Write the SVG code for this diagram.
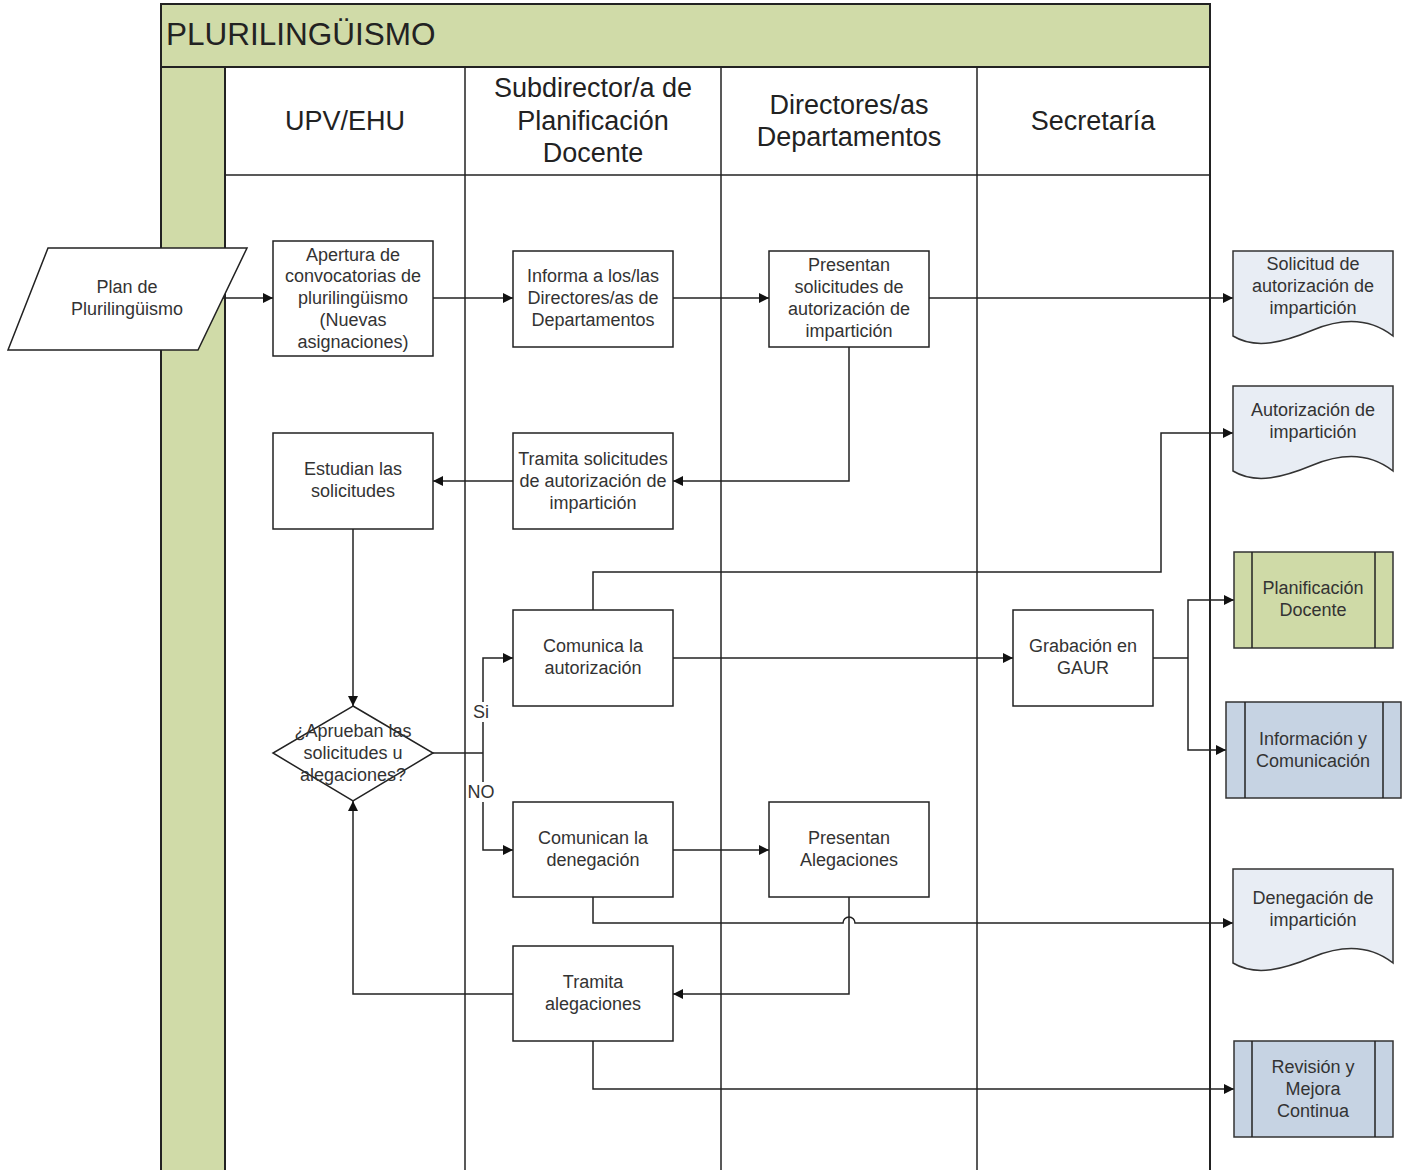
<svg xmlns="http://www.w3.org/2000/svg" width="1414" height="1170" viewBox="0 0 1414 1170">
<defs>
<style>
.pool{fill:#ffffff;stroke:#222;stroke-width:2}
.green{fill:#d0dba8;stroke:#222;stroke-width:2}
.lane{fill:none;stroke:#222;stroke-width:1.5}
.box{fill:#ffffff;stroke:#222;stroke-width:1.5}
.doc{fill:#e8edf4;stroke:#333;stroke-width:1.5}
.subg{fill:#cfdaa7;stroke:#333;stroke-width:1.5}
.subb{fill:#c6d3e3;stroke:#333;stroke-width:1.5}
.t{font-family:"Liberation Sans",Arial,sans-serif;font-size:18px;fill:#333;text-anchor:middle}
.h{font-family:"Liberation Sans",Arial,sans-serif;font-size:27px;fill:#222;text-anchor:middle}
.title{font-family:"Liberation Sans",Arial,sans-serif;font-size:31.5px;fill:#222}
.c{fill:none;stroke:#222;stroke-width:1.5;marker-end:url(#arr)}
.cn{fill:none;stroke:#222;stroke-width:1.5}
</style>
<marker id="arr" viewBox="0 0 10 10" refX="10" refY="5" markerWidth="10" markerHeight="10" markerUnits="userSpaceOnUse" orient="auto">
<path d="M0,0 L10,5 L0,10 Z" fill="#111"/>
</marker>
</defs>

<g id="pool">
<rect class="pool" x="161" y="4" width="1049" height="1170"/>
<rect class="green" x="161" y="4" width="1049" height="63"/>
<rect class="green" x="161" y="67" width="64" height="1107"/>
<text class="title" x="166" y="45">PLURILINGÜISMO</text>
<line class="lane" x1="225" y1="175" x2="1210" y2="175"/>
<line class="lane" x1="465" y1="67" x2="465" y2="1170"/>
<line class="lane" x1="721" y1="67" x2="721" y2="1170"/>
<line class="lane" x1="977" y1="67" x2="977" y2="1170"/>
</g>

<g id="lane-headers">
<text class="h" x="345" y="130">UPV/EHU</text>
<text class="h" x="593" y="97">Subdirector/a de</text>
<text class="h" x="593" y="130">Planificación</text>
<text class="h" x="593" y="162">Docente</text>
<text class="h" x="849" y="114">Directores/as</text>
<text class="h" x="849" y="146">Departamentos</text>
<text class="h" x="1093" y="130">Secretaría</text>
</g>

<g id="connectors">
<path class="c" d="M223,298 H273"/>
<path class="c" d="M433,298 H513"/>
<path class="c" d="M673,298 H769"/>
<path class="c" d="M929,298 H1233"/>
<path class="c" d="M849,347 V481 H673"/>
<path class="c" d="M513,481 H433"/>
<path class="c" d="M353,529 V706"/>
<path class="cn" d="M433,753 H483"/>
<path class="c" d="M483,753 V658 H513"/>
<path class="c" d="M483,753 V850 H513"/>
<path class="c" d="M593,610 V572 H1161 V433 H1233"/>
<path class="c" d="M673,658 H1013"/>
<path class="cn" d="M1153,658 H1188"/>
<path class="c" d="M1188,658 V600 H1234"/>
<path class="c" d="M1188,658 V750 H1226"/>
<path class="c" d="M673,850 H769"/>
<path class="c" d="M593,897 V923 H843 A6,6 0 0 1 855,923 H1233"/>
<path class="c" d="M849,897 V994 H673"/>
<path class="c" d="M513,994 H353 V801"/>
<path class="c" d="M593,1041 V1089 H1234"/>
<rect x="472" y="702" width="20" height="20" fill="#fff"/>
<text class="t" x="481" y="718">Si</text>
<rect x="467" y="782" width="30" height="20" fill="#fff"/>
<text class="t" x="481" y="798">NO</text>
</g>

<g id="plan">
<polygon class="box" points="48,248 247,248 198,350 8,350"/>
<text class="t" x="127" y="293">Plan de</text>
<text class="t" x="127" y="315">Plurilingüismo</text>
</g>

<g id="apertura">
<rect class="box" x="273" y="241" width="160" height="115"/>
<text class="t" x="353" y="261">Apertura de</text>
<text class="t" x="353" y="282">convocatorias de</text>
<text class="t" x="353" y="304">plurilingüismo</text>
<text class="t" x="353" y="326">(Nuevas</text>
<text class="t" x="353" y="348">asignaciones)</text>
</g>

<g id="informa">
<rect class="box" x="513" y="251" width="160" height="96"/>
<text class="t" x="593" y="282">Informa a los/las</text>
<text class="t" x="593" y="304">Directores/as de</text>
<text class="t" x="593" y="326">Departamentos</text>
</g>

<g id="presentan-solicitudes">
<rect class="box" x="769" y="251" width="160" height="96"/>
<text class="t" x="849" y="271">Presentan</text>
<text class="t" x="849" y="293">solicitudes de</text>
<text class="t" x="849" y="315">autorización de</text>
<text class="t" x="849" y="337">impartición</text>
</g>

<g id="doc-solicitud">
<path class="doc" d="M1233,251 H1393 V336 C1370,318 1342,318 1313,330 C1284,342 1256,350 1233,336 Z"/>
<text class="t" x="1313" y="270">Solicitud de</text>
<text class="t" x="1313" y="292">autorización de</text>
<text class="t" x="1313" y="314">impartición</text>
</g>

<g id="doc-autorizacion">
<path class="doc" d="M1233,386 H1393 V471 C1370,453 1342,453 1313,465 C1284,477 1256,485 1233,471 Z"/>
<text class="t" x="1313" y="416">Autorización de</text>
<text class="t" x="1313" y="438">impartición</text>
</g>

<g id="estudian">
<rect class="box" x="273" y="433" width="160" height="96"/>
<text class="t" x="353" y="475">Estudian las</text>
<text class="t" x="353" y="497">solicitudes</text>
</g>

<g id="tramita-solicitudes">
<rect class="box" x="513" y="433" width="160" height="96"/>
<text class="t" x="593" y="465">Tramita solicitudes</text>
<text class="t" x="593" y="487">de autorización de</text>
<text class="t" x="593" y="509">impartición</text>
</g>

<g id="comunica-autorizacion">
<rect class="box" x="513" y="610" width="160" height="96"/>
<text class="t" x="593" y="652">Comunica la</text>
<text class="t" x="593" y="674">autorización</text>
</g>

<g id="grabacion">
<rect class="box" x="1013" y="610" width="140" height="96"/>
<text class="t" x="1083" y="652">Grabación en</text>
<text class="t" x="1083" y="674">GAUR</text>
</g>

<g id="planificacion-docente">
<rect class="subg" x="1234" y="552" width="159" height="96"/>
<line class="cn" x1="1252" y1="552" x2="1252" y2="648"/>
<line class="cn" x1="1375" y1="552" x2="1375" y2="648"/>
<text class="t" x="1313" y="594">Planificación</text>
<text class="t" x="1313" y="616">Docente</text>
</g>

<g id="informacion">
<rect class="subb" x="1226" y="702" width="175" height="96"/>
<line class="cn" x1="1245" y1="702" x2="1245" y2="798"/>
<line class="cn" x1="1383" y1="702" x2="1383" y2="798"/>
<text class="t" x="1313" y="745">Información y</text>
<text class="t" x="1313" y="767">Comunicación</text>
</g>

<g id="decision">
<polygon class="box" points="353,706 433,753 353,801 273,753"/>
<text class="t" x="353" y="737">¿Aprueban las</text>
<text class="t" x="353" y="759">solicitudes u</text>
<text class="t" x="353" y="781">alegaciones?</text>
</g>

<g id="comunican-denegacion">
<rect class="box" x="513" y="802" width="160" height="95"/>
<text class="t" x="593" y="844">Comunican la</text>
<text class="t" x="593" y="866">denegación</text>
</g>

<g id="presentan-alegaciones">
<rect class="box" x="769" y="802" width="160" height="95"/>
<text class="t" x="849" y="844">Presentan</text>
<text class="t" x="849" y="866">Alegaciones</text>
</g>

<g id="doc-denegacion">
<path class="doc" d="M1233,869 H1393 V963 C1370,945 1342,945 1313,957 C1284,969 1256,977 1233,963 Z"/>
<text class="t" x="1313" y="904">Denegación de</text>
<text class="t" x="1313" y="926">impartición</text>
</g>

<g id="tramita-alegaciones">
<rect class="box" x="513" y="946" width="160" height="95"/>
<text class="t" x="593" y="988">Tramita</text>
<text class="t" x="593" y="1010">alegaciones</text>
</g>

<g id="revision">
<rect class="subb" x="1234" y="1041" width="159" height="96"/>
<line class="cn" x1="1252" y1="1041" x2="1252" y2="1137"/>
<line class="cn" x1="1375" y1="1041" x2="1375" y2="1137"/>
<text class="t" x="1313" y="1073">Revisión y</text>
<text class="t" x="1313" y="1095">Mejora</text>
<text class="t" x="1313" y="1117">Continua</text>
</g>
</svg>
